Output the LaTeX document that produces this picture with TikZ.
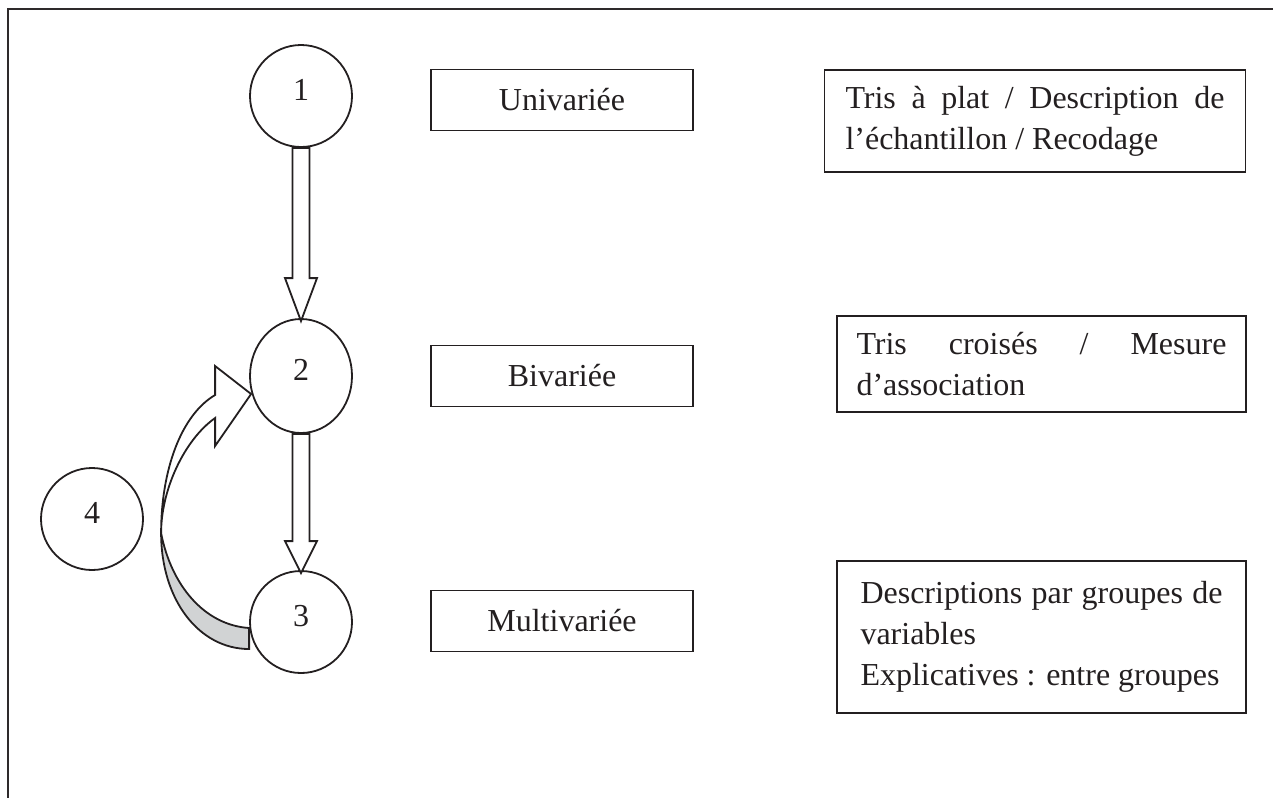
\documentclass[tikz,border=0pt]{standalone}
\usepackage{fontspec}
\setmainfont{Liberation Serif}
\usetikzlibrary{shapes.geometric}
\usetikzlibrary{calc}

\definecolor{ink}{HTML}{231F20}
\definecolor{backside}{HTML}{D1D3D4}

\tikzset{
    frame/.style={draw=ink!95, line width=1.1pt},
    num/.style={circle, draw=ink, line width=0.9pt, minimum size=51pt, inner sep=0pt,
        text=ink, text height=11pt, text depth=7pt},
    level/.style={rectangle, draw=ink, line width=0.9pt, minimum width=131pt,
        minimum height=30.5pt, text=ink},
    detail/.style={rectangle, draw=ink, line width=0.9pt, align=justify, text=ink,
        inner ysep=8pt},
    blockarrow/.style={draw=ink, line width=0.9pt, fill=white, line join=miter},
}

\begin{document}
\begin{tikzpicture}[x=0.5pt, y=-0.5pt, font=\fontsize{16}{20.5}\selectfont]
    \useasboundingbox (0,0) rectangle (1273,798);
    \draw[frame] (1273,9) -- (8,9) -- (8,798);

    % etapes
    \node[num] (c1) at (301,96) {1};
    \node[num, ellipse, minimum height=57pt] (c2) at (301,376) {2};
    \node[num] (c3) at (301,622) {3};
    \node[num] (c4) at (92,519) {4};

    % types d'analyse
    \node[level] (uni) at (562,100) {Univariée};
    \node[level] (bi) at (562,376) {Bivariée};
    \node[level] (multi) at (562,621) {Multivariée};

    % contenus
    \node[detail, text width=189.5pt, inner xsep=10.5pt, minimum height=51pt] (plat) at (1035,121)
        {Tris à plat / Description de\linebreak l’échantillon / Recodage};
    \node[detail, text width=185pt, minimum width=204.5pt, minimum height=46pt] (croise) at (1041.5,364)
        {Tris croisés / Mesure\linebreak d’association};
    \node[detail, text width=181pt, minimum width=204.5pt, minimum height=76pt] (groupes) at (1041.5,637)
        {Descriptions par groupes de\linebreak variables\\Explicatives : entre groupes};

    % fleches droites
    \foreach \a/\b/\h in {c1/c2/43, c2/c3/32}
        \draw[blockarrow] ($(\a.south)+(-8.5,0)$) -- ($(\b.north)+(-8.5,3-\h)$)
            -- ($(\b.north)+(-16,3-\h)$) -- ($(\b.north)+(0,3)$) -- ($(\b.north)+(16,3-\h)$)
            -- ($(\b.north)+(8.5,3-\h)$) -- ($(\a.south)+(8.5,0)$) -- cycle;

    % fleche courbe 3 -> 2
    \coordinate (pinch) at ($(c3.west)+(-88,-89)$);
    \draw[blockarrow] ($(c2.west)+(-34,-10)$) -- ($(c2.west)+(2,18)$) -- ($(c2.west)+(-34,70)$)
        -- ($(c2.west)+(-34,42)$) .. controls ($(c2.west)+(-65,64)$) and ($(pinch)+(0,-43)$) .. (pinch)
        .. controls ($(pinch)+(0,-63)$) and ($(c2.west)+(-68,39)$) .. ($(c2.west)+(-34,19)$) -- cycle;
    \draw[blockarrow, fill=backside] (pinch) .. controls ($(pinch)+(0,67)$) and ($(c3.west)+(-50,27)$)
        .. ($(c3.west)+(0,27)$) -- ($(c3.west)+(0,6)$)
        .. controls ($(c3.west)+(-45,3)$) and ($(pinch)+(10,52)$) .. (pinch) -- cycle;
\end{tikzpicture}
\end{document}
